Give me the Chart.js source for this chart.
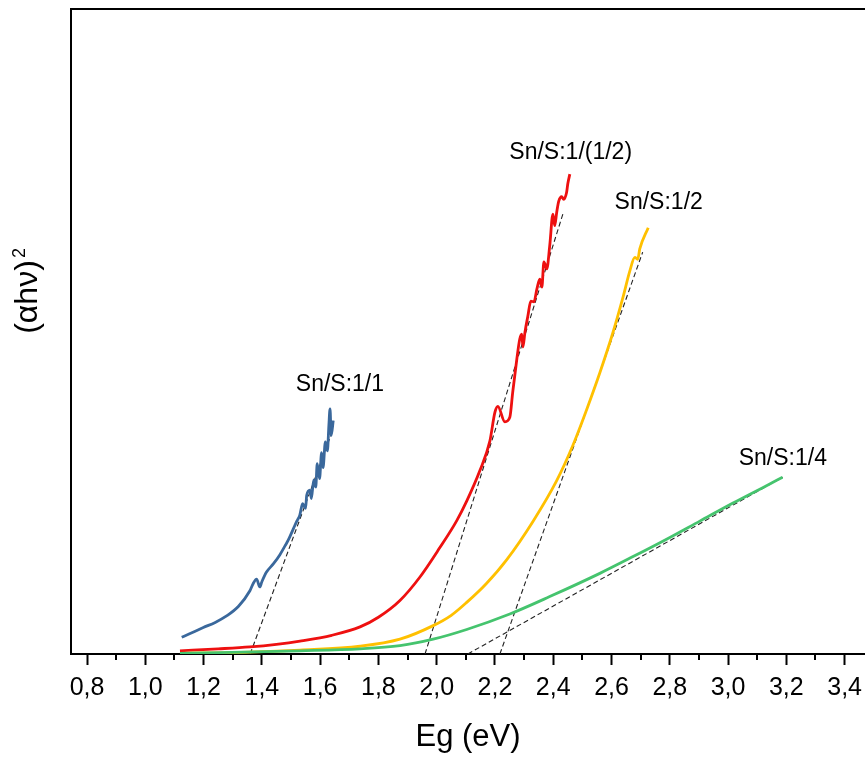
<!DOCTYPE html>
<html>
<head>
<meta charset="utf-8">
<script src="https://cdn.jsdelivr.net/npm/chart.js@4"></script>
<style>
  body { margin: 0; background: #fff; }
  canvas { display: block; }
</style>
</head>
<body>
<canvas id="myChart" width="865" height="758"></canvas>
<script>
// tick labels of the energy axis
const xTicks = [0.8, 1.0, 1.2, 1.4, 1.6, 1.8, 2.0, 2.2, 2.4, 2.6, 2.8, 3.0, 3.2, 3.4];

// Sn/S:1/1 (blue)
const blueE = [1.125, 1.15, 1.199, 1.24, 1.279, 1.32, 1.359, 1.37, 1.382, 1.393, 1.40, 1.416, 1.44, 1.462, 1.48, 1.49,
	1.508, 1.52, 1.53, 1.54, 1.55, 1.554, 1.565, 1.57, 1.578, 1.585, 1.59, 1.598, 1.605, 1.61, 1.618, 1.625, 1.63, 1.634, 1.638, 1.645];
const blueV = [2.6, 3.1, 4.1, 4.9, 5.9, 7.4, 9.8, 10.9, 11.6, 10.4, 11.2, 12.7, 14.0, 15.4, 16.8, 17.6,
	19.4, 20.6, 21.5, 23.3, 22.6, 24.6, 25.4, 24.1, 27.0, 25.9, 29.5, 27.2, 31.2, 28.9, 32.9, 31.5, 35.4, 38.0, 33.9, 36.2];

// Sn/S:1/(1/2) (red)
const redE = [1.119, 1.25, 1.359, 1.45, 1.531, 1.64, 1.737, 1.80, 1.874, 1.942, 2.011, 2.068, 2.103, 2.148, 2.1825,
	2.200, 2.210, 2.234, 2.251, 2.261, 2.275, 2.285, 2.292, 2.296, 2.303, 2.313, 2.323, 2.334, 2.344, 2.354, 2.361,
	2.368, 2.378, 2.388, 2.399, 2.405, 2.412, 2.419, 2.429, 2.436, 2.446, 2.450, 2.457];
const redV = [0.5, 0.8, 1.1, 1.5, 2.0, 2.9, 4.2, 5.7, 8.3, 11.9, 16.5, 20.6, 23.7, 28.4, 33.0,
	37.5, 38.4, 36.0, 36.7, 40.6, 45.7, 48.8, 49.6, 47.6, 49.9, 52.4, 54.7, 54.6, 56.6, 58.1, 56.9,
	60.8, 59.7, 63.3, 68.2, 66.4, 68.5, 70.2, 70.9, 70.5, 71.6, 72.9, 74.4];

// Sn/S:1/2 (yellow)
const yellowE = [1.119, 1.359, 1.531, 1.737, 1.874, 1.988, 2.05, 2.103, 2.17, 2.240, 2.331, 2.411, 2.468, 2.514,
	2.560, 2.606, 2.640, 2.663, 2.68, 2.69, 2.697, 2.726];
const yellowV = [0.1, 0.3, 0.6, 1.2, 2.3, 4.4, 6.0, 8.0, 10.9, 14.6, 20.6, 26.8, 32.4, 37.8,
	43.6, 50.0, 55.4, 59.4, 61.5, 61.2, 62.8, 66.1];

// Sn/S:1/4 (green)
const greenE = [1.119, 1.531, 1.737, 1.874, 1.988, 2.103, 2.251, 2.388, 2.560, 2.674, 2.789, 2.903, 3.017, 3.132, 3.187];
const greenV = [0.1, 0.5, 0.8, 1.3, 2.3, 3.8, 6.2, 8.9, 12.5, 15.1, 17.8, 20.6, 23.4, 26.1, 27.4];

// linear fits (dashed), two end points each
const blueFitE = [1.36, 1.645];
const blueFitV = [0, 34.9];
const redFitE = [1.96, 2.433];
const redFitV = [0, 68.2];
const yellowFitE = [2.217, 2.707];
const yellowFitV = [0, 62.3];
const greenFitE = [2.107, 3.187];
const greenFitV = [0, 27.4];

// curve labels
const labelText = ['Sn/S:1/1', 'Sn/S:1/(1/2)', 'Sn/S:1/2', 'Sn/S:1/4'];
const labelE = [1.668, 2.460, 2.762, 3.188];
const labelV = [40.8, 76.7, 69.0, 29.3];

const FONT = "'Liberation Sans', Arial, sans-serif";

function pts(xs, ys) {
	return xs.map((x, i) => ({ x: x, y: ys[i] }));
}

function curve(xs, ys, color) {
	return {
		data: pts(xs, ys),
		borderColor: color,
		borderWidth: 2.8,
		pointRadius: 0,
		cubicInterpolationMode: 'monotone',
		fill: false
	};
}

function fit(xs, ys) {
	return {
		data: pts(xs, ys),
		borderColor: '#222',
		borderWidth: 1.1,
		borderDash: [5, 3],
		pointRadius: 0,
		fill: false
	};
}

//	frame top line, minor ticks, y title and curve labels
const extras = {
	id: 'extras',
	afterDraw(chart) {
		const c = chart.ctx;
		const a = chart.chartArea;
		const xs = chart.scales.x;
		const ys = chart.scales.y;
		c.save();
		c.strokeStyle = '#000';
		c.lineWidth = 2;
		c.beginPath();
		c.moveTo(a.left - 1, a.top);
		c.lineTo(a.right, a.top);
		c.stroke();

		for (let i = 0; i < xTicks.length; i++) {
			const m = xTicks[i] + 0.1;
			if (m > xs.max) continue;
			const px = Math.round(xs.getPixelForValue(m));
			c.beginPath();
			c.moveTo(px, a.bottom);
			c.lineTo(px, a.bottom + 6);
			c.stroke();
		}

		c.fillStyle = '#000';
		c.font = '23px ' + FONT;
		c.textAlign = 'center';
		c.textBaseline = 'alphabetic';
		for (let i = 0; i < labelText.length; i++) {
			c.fillText(labelText[i], xs.getPixelForValue(labelE[i]), ys.getPixelForValue(labelV[i]));
		}

		c.translate(37, 297);
		c.rotate(-Math.PI / 2);
		c.textAlign = 'center';
		c.font = '32px ' + FONT;
		c.fillText('(\u03b1h\u03bd)', 0, 0);
		c.font = '18px ' + FONT;
		c.textAlign = 'left';
		c.fillText('2', 39, -12);
		c.restore();
	}
};

const ctx = document.getElementById('myChart').getContext('2d');
const myChart = new Chart(ctx, {
	type: 'line',
	data: {
		datasets: [
			curve(greenE, greenV, '#45c46e'),
			curve(yellowE, yellowV, '#ffc000'),
			curve(redE, redV, '#ee1010'),
			curve(blueE, blueV, '#3a689c'),
			fit(blueFitE, blueFitV),
			fit(redFitE, redFitV),
			fit(yellowFitE, yellowFitV),
			fit(greenFitE, greenFitV)
		]
	},
	options: {
		responsive: false,
		animation: false,
		layout: { padding: { top: 9, right: 0, left: 0, bottom: 0 } },
		plugins: {
			legend: { display: false },
			tooltip: { enabled: false }
		},
		scales: {
			x: {
				type: 'linear',
				min: 0.745,
				max: 3.47,
				afterFit: s => { s.height = 104; s.paddingLeft = 0; s.paddingRight = 0; },
				afterBuildTicks: s => { s.ticks = xTicks.map(v => ({ value: v })); },
				border: { display: true, color: '#000', width: 2 },
				grid: {
					drawOnChartArea: false,
					color: '#000',
					tickLength: 11,
					tickWidth: 2
				},
				ticks: {
					color: '#000',
					padding: 8,
					maxRotation: 0,
					autoSkip: false,
					font: { family: FONT, size: 25 },
					callback: v => v.toFixed(1).replace('.', ',')
				},
				title: {
					display: true,
					text: 'Eg (eV)',
					color: '#000',
					font: { family: FONT, size: 31 },
					padding: { top: 0, bottom: 2 }
				}
			},
			y: {
				type: 'linear',
				min: 0,
				max: 100,
				afterFit: s => { s.width = 71; },
				border: { display: true, color: '#000', width: 2 },
				grid: { display: false },
				ticks: { display: false }
			}
		}
	},
	plugins: [extras]
});
</script>
</body>
</html>
